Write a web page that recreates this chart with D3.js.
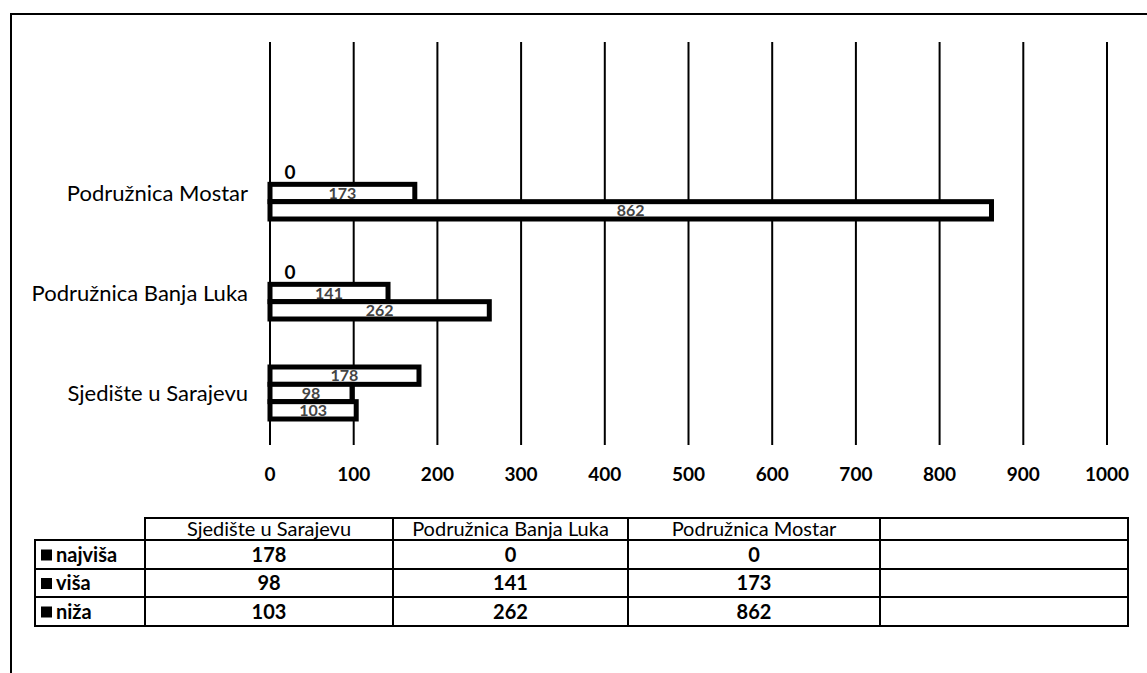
<!DOCTYPE html>
<html>
<head>
<meta charset="utf-8">
<script src="https://cdn.jsdelivr.net/npm/d3@7"></script>
<style>
  body { margin: 0; background: #fff; }
  svg { font-family: Lato, "Open Sans", sans-serif; }
</style>
</head>
<body>
<svg id="chart" width="1147" height="673"></svg>
<script>
(function(){
// categories (bottom to top in the chart, left to right in the table)
var categories = ['Sjedište u Sarajevu', 'Podružnica Banja Luka', 'Podružnica Mostar', '']
var seriesNames = ['najviša', 'viša', 'niža']
var najvisa = [178, 0, 0]
var visa = [98, 141, 173]
var niza = [103, 262, 862]
var xTicks = [0, 100, 200, 300, 400, 500, 600, 700, 800, 900, 1000]

var seriesValues = [najvisa, visa, niza]

var svg = d3.select('#chart')

// outer frame (cut off at right / bottom like the scan)
svg.append('path')
    .attr('d', 'M11,673 L11,14 L1147,14')
    .attr('fill', 'none')
    .attr('stroke', '#000')
    .attr('stroke-width', 2)

var x = d3.scaleLinear().domain([0, 1000]).range([270, 1107])

var y0 = d3.scaleBand()
    .domain(categories.slice().reverse())
    .range([43, 443])
    .paddingInner(0.48)
    .paddingOuter(0.24)

var y1 = d3.scaleBand()
    .domain(seriesNames)
    .range([0, y0.bandwidth()])

// gridlines
svg.append('g').selectAll('line')
    .data(xTicks)
    .enter().append('line')
    .attr('x1', d => x(d)).attr('x2', d => x(d))
    .attr('y1', 42).attr('y2', 445)
    .attr('stroke', '#000')
    .attr('stroke-width', 2)

// x tick labels
svg.append('g').selectAll('text')
    .data(xTicks)
    .enter().append('text')
    .attr('x', d => x(d))
    .attr('y', 474)
    .attr('dy', '0.35em')
    .attr('text-anchor', 'middle')
    .style('font-size', '19px')
    .style('font-weight', 'bold')
    .text(d => d)

// category labels
svg.append('g').selectAll('text')
    .data(categories.filter(c => c !== ''))
    .enter().append('text')
    .attr('x', 248)
    .attr('y', d => y0(d) + y0.bandwidth() / 2)
    .attr('dy', '0.35em')
    .attr('text-anchor', 'end')
    .style('font-size', '22px')
    .text(d => d)

// bars
var bars = []
categories.forEach(function(c, ci) {
    if (c === '') return
    seriesNames.forEach(function(s, si) {
        bars.push({cat: c, series: s, value: seriesValues[si][ci]})
    })
})

var g = svg.append('g')
g.selectAll('rect')
    .data(bars.filter(d => d.value > 0))
    .enter().append('rect')
    .attr('x', x(0))
    .attr('y', d => y0(d.cat) + y1(d.series))
    .attr('width', d => x(d.value) - x(0))
    .attr('height', y1.bandwidth())
    .attr('fill', '#fff')
    .attr('stroke', '#000')
    .attr('stroke-width', 5)

// data labels
g.selectAll('text')
    .data(bars)
    .enter().append('text')
    .attr('x', d => d.value > 0 ? (x(0) + x(d.value)) / 2 : x(0) + 20)
    .attr('y', d => y0(d.cat) + y1(d.series) + y1.bandwidth() / 2 + (d.value > 0 ? 0 : -3))
    .attr('dy', '0.35em')
    .attr('text-anchor', 'middle')
    .style('font-size', d => d.value > 0 ? '16px' : '19px')
    .style('font-weight', 'bold')
    .attr('fill', d => d.value > 0 ? '#444' : '#000')
    .text(d => d.value)

// data table
var colEdges = [35, 145, 393, 628, 880, 1128]
var rowEdges = [518, 540, 569, 597, 626]
var t = svg.append('g')

// header cells (no border around the empty corner)
t.selectAll('.hdr')
    .data(categories)
    .enter().append('rect')
    .attr('class', 'hdr')
    .attr('x', (d, i) => colEdges[i + 1])
    .attr('y', rowEdges[0])
    .attr('width', (d, i) => colEdges[i + 2] - colEdges[i + 1])
    .attr('height', rowEdges[1] - rowEdges[0])
    .attr('fill', 'none').attr('stroke', '#000').attr('stroke-width', 2)

t.selectAll('.hdrtxt')
    .data(categories)
    .enter().append('text')
    .attr('class', 'hdrtxt')
    .attr('x', (d, i) => (colEdges[i + 1] + colEdges[i + 2]) / 2)
    .attr('y', (rowEdges[0] + rowEdges[1]) / 2)
    .attr('dy', '0.35em')
    .attr('text-anchor', 'middle')
    .style('font-size', '20px')
    .text(d => d)

seriesNames.forEach(function(s, si) {
    var top = rowEdges[si + 1], bot = rowEdges[si + 2]
    for (var c = 0; c < colEdges.length - 1; c++) {
        t.append('rect')
            .attr('x', colEdges[c]).attr('y', top)
            .attr('width', colEdges[c + 1] - colEdges[c])
            .attr('height', bot - top)
            .attr('fill', 'none').attr('stroke', '#000').attr('stroke-width', 2)
    }
    // legend key
    t.append('rect')
        .attr('x', colEdges[0] + 6).attr('y', (top + bot) / 2 - 5)
        .attr('width', 11).attr('height', 11)
        .attr('fill', '#000')
    t.append('text')
        .attr('x', colEdges[0] + 21).attr('y', (top + bot) / 2)
        .attr('dy', '0.35em')
        .style('font-size', '20px').style('font-weight', 'bold')
        .text(s)
    seriesValues[si].forEach(function(v, ci) {
        t.append('text')
            .attr('x', (colEdges[ci + 1] + colEdges[ci + 2]) / 2)
            .attr('y', (top + bot) / 2)
            .attr('dy', '0.35em')
            .attr('text-anchor', 'middle')
            .style('font-size', '20px').style('font-weight', 'bold')
            .text(v)
    })
})
})()
</script>
</body>
</html>
